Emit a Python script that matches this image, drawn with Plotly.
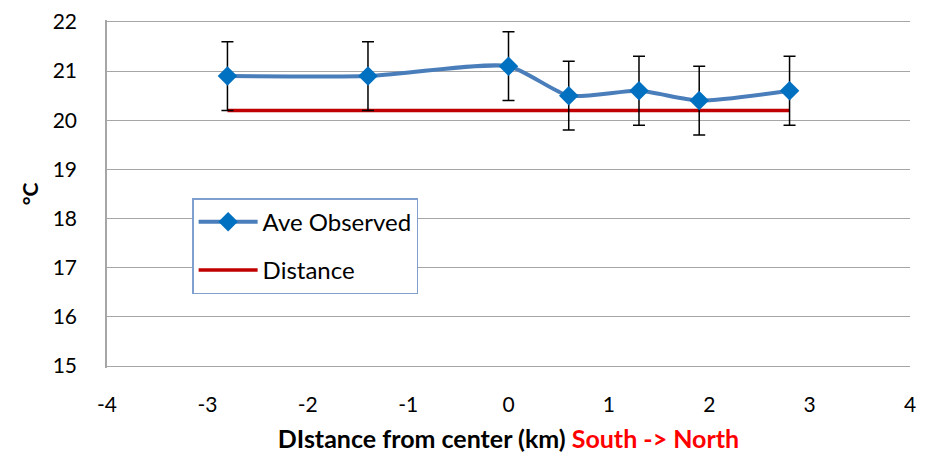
import plotly.graph_objects as go

x_obs = [-2.8, -1.4, 0, 0.6, 1.3, 1.9, 2.8]
y_obs = [20.9, 20.9, 21.1, 20.5, 20.6, 20.4, 20.6]
err = [0.7, 0.7, 0.7, 0.7, 0.7, 0.7, 0.7]
x_dist = [-2.8, 2.8]
y_dist = [20.2, 20.2]
x_ticks = [-4, -3, -2, -1, 0, 1, 2, 3, 4]
x_labels = ["-4", "-3", "-2", "-1", "0", "1", "2", "3", "4"]
y_ticks = [15, 16, 17, 18, 19, 20, 21, 22]

font_family = "Lato, 'Open Sans', sans-serif"

fig = go.Figure()
fig.add_trace(go.Scatter(
    x=x_dist, y=y_dist, mode="lines", name="Distance",
    line=dict(color="#c00000", width=3.5), legendgroup="b", legendrank=2,
))
fig.add_trace(go.Scatter(
    x=x_obs, y=y_obs, mode="lines+markers", name="Ave Observed",
    line=dict(color="#4a7ebb", width=4, shape="spline", smoothing=0.6),
    marker=dict(symbol="diamond", size=15, color="#0070c0"),
    error_y=dict(type="data", array=err, visible=True, color="#000000", thickness=1.5, width=6),
    legendgroup="a", legendrank=1,
))

fig.update_layout(
    width=930, height=456,
    margin=dict(l=107, r=20, t=20, b=88, autoexpand=False),
    paper_bgcolor="white", plot_bgcolor="white",
    font=dict(family=font_family, size=21, color="#000000"),
    showlegend=True,
    legend=dict(
        x=0.106, y=0.488, xanchor="left", yanchor="top",
        bgcolor="white", bordercolor="#7f9fce", borderwidth=1.5,
        font=dict(size=24), tracegroupgap=14, itemwidth=59,
    ),
    xaxis=dict(
        range=[-4, 4], tickvals=x_ticks, ticktext=x_labels, showgrid=False, zeroline=False,
        showline=False, ticks="", ticklabelstandoff=22,
        title=dict(
            text="<b>DIstance from center (km) <span style='color:#ff0000'>South -&gt; North</span></b>",
            font=dict(size=25), standoff=15,
        ),
    ),
    yaxis=dict(
        range=[14.96, 22.04], tickvals=y_ticks, showgrid=True, gridcolor="#a6a6a6", gridwidth=1.2,
        zeroline=False, showline=True, linecolor="#a6a6a6", linewidth=1.5,
        ticks="", ticklabelstandoff=24,
        title=dict(text="<b>°C</b>", font=dict(size=21), standoff=8),
    ),
)

fig.write_html("out.html", config={"displayModeBar": False},
               post_script="document.body.style.margin='0';")
